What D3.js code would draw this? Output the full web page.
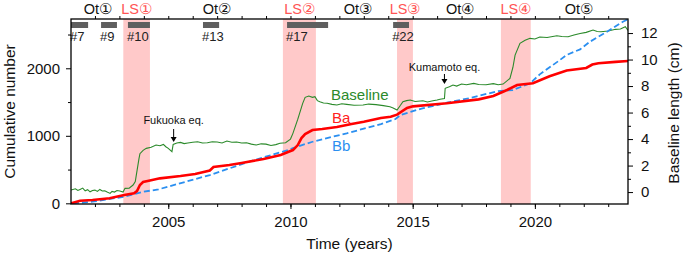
<!DOCTYPE html>
<html>
<head>
<meta charset="utf-8">
<script src="https://cdn.jsdelivr.net/npm/d3@7"></script>
<style>
  body { margin: 0; background: #fff; }
  svg { font-family: "Liberation Sans", Arial, Helvetica, sans-serif; }
</style>
</head>
<body>
<svg id="chart" width="685" height="255"></svg>
<script>
// cumulative number Ba (red) : [year, count]
const baData = [
  [2001.02, 0], [2001.39, 38], [2001.9, 49], [2002.6, 74], [2003.2, 123], [2003.6, 148],
  [2003.72, 182], [2003.84, 271], [2003.97, 315], [2004.25, 338], [2004.66, 370],
  [2005.5, 404], [2006.1, 434], [2006.7, 486], [2006.85, 538], [2007.5, 567],
  [2008.0, 597], [2008.9, 656], [2009.6, 715], [2009.9, 760], [2010.1, 789],
  [2010.3, 863], [2010.45, 967], [2010.6, 1026], [2010.9, 1085], [2011.3, 1100],
  [2011.9, 1130], [2012.5, 1174], [2013.0, 1208], [2013.7, 1263], [2014.1, 1283],
  [2014.36, 1313], [2014.77, 1412], [2015.01, 1436], [2016.4, 1481], [2017.7, 1540],
  [2018.3, 1590], [2018.86, 1679], [2019.27, 1753], [2019.92, 1778], [2020.6, 1881],
  [2021.3, 1968], [2022.1, 2005], [2022.35, 2055], [2022.6, 2075], [2023.3, 2095],
  [2023.81, 2108]
];
// cumulative number Bb (blue dashed)
const bbData = [
  [2001.1, 0], [2001.9, 24], [2003.2, 98], [2004.0, 172], [2004.6, 207], [2006.7, 419],
  [2008.3, 616], [2009.9, 789], [2010.1, 818], [2010.9, 912], [2012.3, 1037],
  [2013.7, 1174], [2014.3, 1248], [2014.5, 1308], [2015.4, 1407], [2016.4, 1490],
  [2017.35, 1560], [2018.5, 1663], [2019.1, 1678], [2019.8, 1777], [2020.2, 1910],
  [2021.03, 2124], [2021.3, 2198], [2021.85, 2280], [2022.25, 2393], [2022.95, 2541],
  [2023.6, 2690], [2023.81, 2725]
];
// baseline length (cm), right axis
const baselineData = [
  [2001.02, 0.15], [2001.2, 0.25], [2001.3, 0.12], [2001.39, 0.2], [2001.5, 0.3], [2001.6, 0.1],
  [2001.7, 0.18], [2001.8, 0.02], [2001.9, 0.12], [2002.0, 0.15], [2002.1, 0.05],
  [2002.2, 0.2], [2002.3, 0.08], [2002.4, 0.1], [2002.5, 0.0], [2002.62, -0.1],
  [2002.7, 0.05], [2002.8, 0.0], [2002.9, 0.12], [2003.02, 0.08], [2003.15, 0.0],
  [2003.23, 0.28], [2003.4, 0.3], [2003.56, 0.53], [2003.65, 0.8], [2003.72, 1.6],
  [2003.8, 2.5], [2003.84, 2.9], [2003.97, 3.15], [2004.1, 3.3], [2004.3, 3.38],
  [2004.5, 3.55], [2004.66, 3.5], [2004.8, 3.6], [2004.9, 3.42], [2005.0, 3.3],
  [2005.15, 3.05], [2005.2, 3.6], [2005.35, 3.7], [2005.5, 3.75], [2005.65, 3.66],
  [2005.8, 3.7], [2006.0, 3.76], [2006.2, 3.8], [2006.4, 3.7], [2006.6, 3.72],
  [2006.8, 3.8], [2007.0, 3.78], [2007.2, 3.7], [2007.4, 3.85], [2007.6, 3.76],
  [2007.8, 3.78], [2008.0, 3.7], [2008.2, 3.72], [2008.4, 3.62], [2008.6, 3.55],
  [2008.8, 3.64], [2009.0, 3.62], [2009.2, 3.52], [2009.4, 3.58], [2009.57, 3.68],
  [2009.8, 3.72], [2010.0, 4.0], [2010.1, 4.43], [2010.3, 5.5], [2010.5, 6.69],
  [2010.6, 7.15], [2010.75, 7.25], [2010.9, 7.15], [2011.0, 7.2], [2011.1, 6.9],
  [2011.2, 6.82], [2011.35, 6.72], [2011.5, 6.7], [2011.7, 6.62], [2011.9, 6.57],
  [2012.1, 6.66], [2012.3, 6.62], [2012.6, 6.55], [2012.97, 6.57], [2013.2, 6.64],
  [2013.5, 6.6], [2013.8, 6.52], [2014.07, 6.44], [2014.2, 6.35], [2014.36, 6.19],
  [2014.5, 6.55], [2014.6, 6.82], [2014.75, 6.9], [2014.9, 6.95], [2015.1, 6.84],
  [2015.42, 6.89], [2015.6, 6.8], [2015.83, 6.89], [2016.0, 6.95], [2016.12, 7.0],
  [2016.3, 7.05], [2016.33, 7.83], [2016.5, 7.95], [2016.65, 8.08], [2016.8, 8.0],
  [2017.0, 8.15], [2017.2, 8.1], [2017.5, 8.2], [2017.7, 8.12], [2018.0, 8.1],
  [2018.3, 8.18], [2018.5, 8.1], [2018.7, 8.15], [2018.98, 8.58], [2019.1, 9.4],
  [2019.19, 10.34], [2019.39, 11.22], [2019.6, 11.45], [2019.8, 11.6], [2020.0, 11.55],
  [2020.2, 11.7], [2020.5, 11.66], [2020.9, 11.8], [2021.1, 11.74], [2021.36, 11.72],
  [2021.6, 11.85], [2021.85, 11.97], [2022.1, 12.05], [2022.38, 12.23], [2022.55, 12.12],
  [2022.7, 12.1], [2023.0, 12.15], [2023.3, 12.28], [2023.5, 12.3], [2023.7, 12.48],
  [2023.81, 12.2]
];

// LS periods (pink bands) and their labels
const lsPeriods = [[2003.16, 2004.25], [2009.69, 2011.04], [2014.36, 2015.01], [2018.61, 2019.83]];
const periodLabels = [
  ['Ot①', 2002.12, 'ot'], ['LS①', 2003.7, 'ls'], ['Ot②', 2006.99, 'ot'], ['LS②', 2010.37, 'ls'],
  ['Ot③', 2012.76, 'ot'], ['LS③', 2014.69, 'ls'], ['Ot④', 2016.94, 'ot'], ['LS④', 2019.22, 'ls'],
  ['Ot⑤', 2021.8, 'ot']
];
// swarm bars (gray) with numbers
const swarms = [
  ['#7', 2001.02, 2001.72], ['#9', 2002.25, 2002.9], ['#10', 2003.35, 2004.25],
  ['#13', 2006.42, 2007.08], ['#17', 2009.86, 2011.54], ['#22', 2014.2, 2014.85]
];
const xTicks = [2005, 2010, 2015, 2020];
const leftTicks = [0, 1000, 2000];
const rightTicks = [0, 2, 4, 6, 8, 10, 12];

const svg = d3.select('#chart');
const L = 71, R = 628, T = 19, B = 204;
const x = d3.scaleLinear().domain([2001.02, 2023.81]).range([L, R]);
const yL = d3.scaleLinear().domain([-10, 2730]).range([B, T]);
const yR = d3.scaleLinear().domain([-0.9, 13.06]).range([B, T]);

svg.append('clipPath').attr('id', 'plot').append('rect')
  .attr('x', L).attr('y', T).attr('width', R - L).attr('height', B - T);

// pink bands
svg.append('g').selectAll('rect').data(lsPeriods).join('rect')
  .attr('x', d => x(d[0])).attr('width', d => x(d[1]) - x(d[0]))
  .attr('y', T).attr('height', B - T).attr('fill', '#ffc9c9');

// swarm bars
const sw = svg.append('g');
sw.selectAll('rect').data(swarms).join('rect')
  .attr('x', d => x(d[1])).attr('width', d => x(d[2]) - x(d[1]))
  .attr('y', 22).attr('height', 6).attr('fill', '#5f5f5f');
sw.selectAll('text').data(swarms).join('text')
  .attr('x', d => x(d[1]) - 1).attr('y', 41).attr('font-size', 13).attr('fill', '#222')
  .text(d => d[0]);

const g = svg.append('g').attr('clip-path', 'url(#plot)');
g.append('path').datum(baselineData)
  .attr('d', d3.line().x(d => x(d[0])).y(d => yR(d[1])))
  .attr('fill', 'none').attr('stroke', '#2b8a2b').attr('stroke-width', 1.1);
g.append('path').datum(bbData)
  .attr('d', d3.line().x(d => x(d[0])).y(d => yL(d[1])))
  .attr('fill', 'none').attr('stroke', '#2b8ff0').attr('stroke-width', 1.8).attr('stroke-dasharray', '6 3');
g.append('path').datum(baData)
  .attr('d', d3.line().x(d => x(d[0])).y(d => yL(d[1])))
  .attr('fill', 'none').attr('stroke', '#ff0000').attr('stroke-width', 2.6);

// axes
function styleAxis(sel) {
  sel.select('.domain').remove();
  sel.selectAll('line').attr('stroke', '#000');
  sel.selectAll('text').attr('font-size', 15).attr('fill', '#111').attr('font-family', '"Liberation Sans", Arial, sans-serif');
}
const years = d3.range(2002, 2024);
svg.append('g').attr('transform', `translate(0,${B})`)
  .call(d3.axisBottom(x).tickValues(years).tickSize(3).tickFormat(''))
  .call(styleAxis);
svg.append('g').attr('transform', `translate(0,${B})`)
  .call(d3.axisBottom(x).tickValues(xTicks).tickSize(5).tickPadding(7).tickFormat(d3.format('d')))
  .call(styleAxis);
svg.append('g').attr('transform', `translate(0,${T})`)
  .call(d3.axisTop(x).tickValues(years).tickSize(3).tickFormat(''))
  .call(styleAxis);
svg.append('g').attr('transform', `translate(${L},0)`)
  .call(d3.axisLeft(yL).tickValues([500, 1500, 2500]).tickSize(3).tickFormat(''))
  .call(styleAxis);
svg.append('g').attr('transform', `translate(${L},0)`)
  .call(d3.axisLeft(yL).tickValues(leftTicks).tickSize(5).tickPadding(6).tickFormat(d3.format('d')))
  .call(styleAxis);
svg.append('g').attr('transform', `translate(${R},0)`)
  .call(d3.axisRight(yR).tickValues([1, 3, 5, 7, 9, 11]).tickSize(3).tickFormat(''))
  .call(styleAxis);
svg.append('g').attr('transform', `translate(${R},0)`)
  .call(d3.axisRight(yR).tickValues(rightTicks).tickSize(5).tickPadding(8))
  .call(styleAxis);

svg.append('rect').attr('x', L).attr('y', T).attr('width', R - L).attr('height', B - T)
  .attr('fill', 'none').attr('stroke', '#000').attr('stroke-width', 1.3);

// axis titles
svg.append('text').attr('x', (L + R) / 2).attr('y', 249).attr('text-anchor', 'middle')
  .attr('font-size', 15.5).attr('fill', '#111').text('Time (years)');
svg.append('text').attr('transform', `translate(15,${(T + B) / 2}) rotate(-90)`)
  .attr('text-anchor', 'middle').attr('font-size', 15.5).attr('fill', '#111').text('Cumulative number');
svg.append('text').attr('transform', `translate(679,113) rotate(-90)`)
  .attr('text-anchor', 'middle').attr('font-size', 15.5).attr('fill', '#111').text('Baseline length (cm)');

// period labels
svg.append('g').selectAll('text').data(periodLabels).join('text')
  .attr('x', d => x(d[1])).attr('y', 14).attr('text-anchor', 'middle').attr('font-size', 14.5)
  .attr('fill', d => d[2] === 'ls' ? '#ff5555' : '#111').text(d => d[0]);

// series labels
svg.append('text').attr('x', 331).attr('y', 100).attr('font-size', 15).attr('fill', '#2b8a2b').text('Baseline');
svg.append('text').attr('x', 332).attr('y', 123).attr('font-size', 15).attr('fill', '#ff2020').text('Ba');
svg.append('text').attr('x', 332).attr('y', 151).attr('font-size', 15).attr('fill', '#2b8ff0').text('Bb');

// earthquake annotations
const quakes = [['Fukuoka eq.', 2005.22, 124, 129, 142], ['Kumamoto eq.', 2016.3, 71, 74, 84]];
const q = svg.append('g');
quakes.forEach(([label, yr, ty, a0, a1]) => {
  q.append('text').attr('x', x(yr)).attr('y', ty).attr('text-anchor', 'middle')
    .attr('font-size', 11).attr('fill', '#111').text(label);
  q.append('line').attr('x1', x(yr)).attr('x2', x(yr)).attr('y1', a0).attr('y2', a1 - 3)
    .attr('stroke', '#000').attr('stroke-width', 1);
  q.append('path').attr('d', `M${x(yr) - 3},${a1 - 5} L${x(yr) + 3},${a1 - 5} L${x(yr)},${a1} Z`).attr('fill', '#000');
});
</script>
</body>
</html>
